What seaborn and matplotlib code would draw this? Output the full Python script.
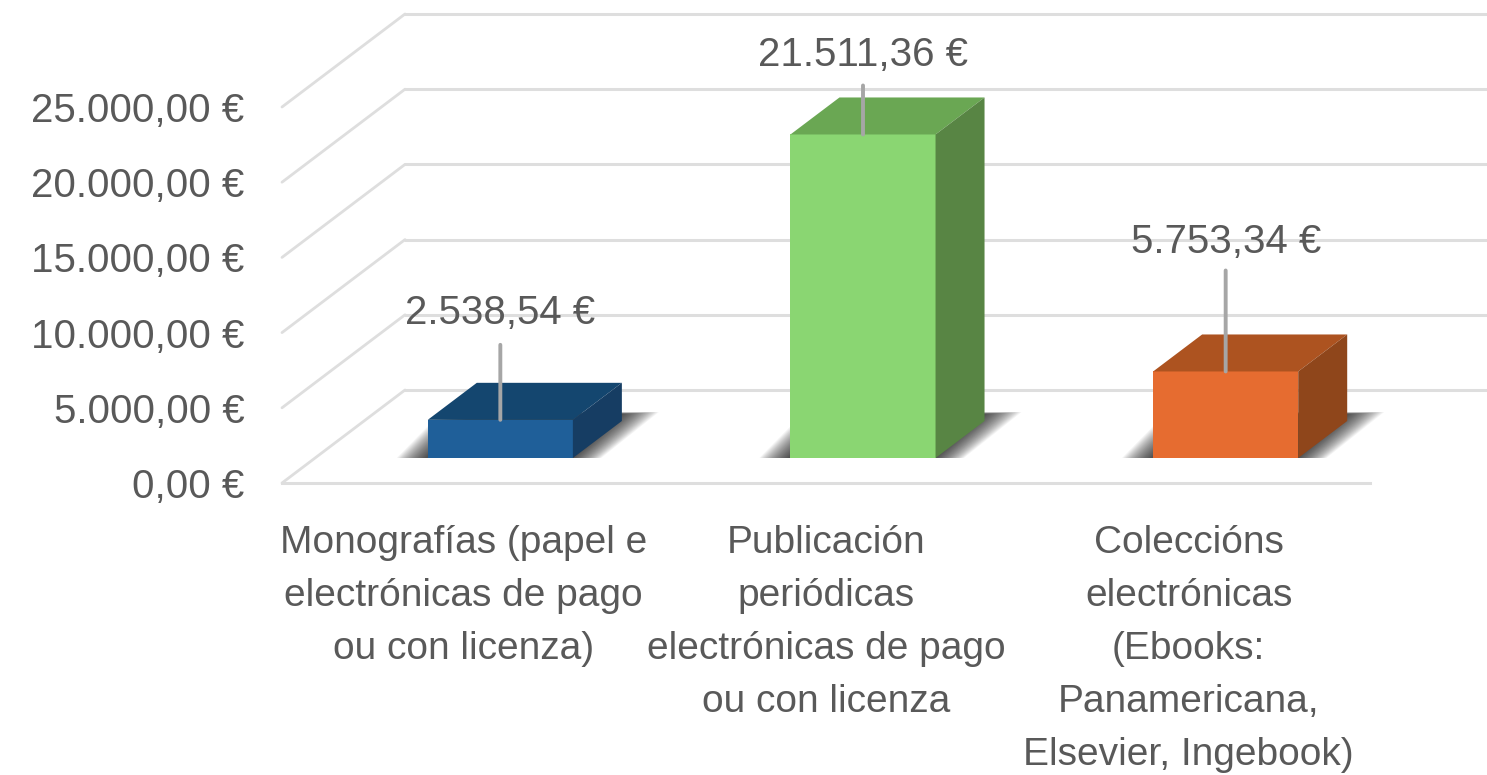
import numpy as np
import pandas as pd
import seaborn as sns
import matplotlib.pyplot as plt
from matplotlib.patches import Polygon
from matplotlib.transforms import IdentityTransform

categories = ["Monografías (papel e\nelectrónicas de pago\nou con licenza)",
              "Publicación\nperiódicas\nelectrónicas de pago\nou con licenza",
              "Coleccións\nelectrónicas\n(Ebooks:\nPanamericana,\nElsevier, Ingebook)"]
values = [2538.54, 21511.36, 5753.34]
value_labels = ["2.538,54 €", "21.511,36 €", "5.753,34 €"]
y_ticks = [0, 5000, 10000, 15000, 20000, 25000]
y_tick_labels = ["0,00 €", "5.000,00 €", "10.000,00 €", "15.000,00 €", "20.000,00 €", "25.000,00 €"]

front_colors = ["#1F5F99", "#8AD672", "#E66C30"]
top_colors = ["#14466F", "#6AA753", "#AD5320"]
side_colors = ["#163D63", "#588544", "#8F461B"]
grid_color = "#DEDEDE"
text_color = "#595959"

W, H = 1487, 775
LEFT, RIGHT, ZERO, TOP = 282, 1370, 483, 107
leader_tops = [75, 49, 101]
label_gaps = [107, 79, 129]

sns.set_theme(style="white")
plt.rcParams["font.family"] = ["Liberation Sans", "DejaVu Sans"]


def plane(fig, dx, dy, width=RIGHT - LEFT):
    # axes for one depth plane, offset in pixels from the front plane
    return fig.add_axes([(LEFT + dx) / W, (H - ZERO + dy) / H, width / W, (ZERO - TOP) / H])


fig = plt.figure(figsize=(W / 100, H / 100), dpi=100)

# back wall
ax_back = plane(fig, 123, 93, width=W - LEFT - 123)
ax_back.set_ylim(0, 25000)
ax_back.set_yticks(y_ticks)
ax_back.set_yticklabels([])
ax_back.set_xticks([])
ax_back.grid(axis="y", color=grid_color, lw=2.2)
ax_back.patch.set_alpha(0)
sns.despine(ax=ax_back, left=True, bottom=True)
for g in ax_back.get_ygridlines():
    g.set_clip_on(False)

# front plane: tick labels and floor line
ax_front = plane(fig, 0, 0)
ax_front.patch.set_alpha(0)
ax_front.set_xlim(-0.5, 2.5)
ax_front.set_ylim(0, 25000)
ax_front.set_yticks(y_ticks)
ax_front.set_yticklabels(y_tick_labels, fontsize=29, color=text_color)
ax_front.set_xticks(range(3))
ax_front.set_xticklabels(categories, fontsize=28, color=text_color, linespacing=1.61)
ax_front.tick_params(axis="y", length=0, pad=27)
ax_front.tick_params(axis="x", length=0, pad=30)
sns.despine(ax=ax_front, left=True)
ax_front.spines["bottom"].set_color(grid_color)
ax_front.spines["bottom"].set_linewidth(2.2)

# side wall diagonals
for t in y_ticks:
    px, py = ax_front.transData.transform((-0.5, t))
    fig.add_artist(plt.Line2D([px, px + 123], [py, py + 93], color=grid_color, lw=2,
                              transform=IdentityTransform()))

# bars sit on a plane 37,25 px behind the front
ax = plane(fig, 37, 25)
ax.patch.set_alpha(0)
df = pd.DataFrame({"cat": categories, "val": values})
sns.barplot(data=df, x="cat", y="val", hue="cat", palette=front_colors, width=0.4,
            legend=False, saturation=1, linewidth=0, ax=ax)
ax.set_xlim(-0.5, 2.5)
ax.set_ylim(0, 25000)
ax.set_xlabel("")
ax.set_ylabel("")
ax.set_xticks([])
ax.set_yticks([])
sns.despine(ax=ax, left=True, bottom=True)

identity = IdentityTransform()
for i, bar in enumerate(ax.patches):
    x0, y0 = ax.transData.transform((bar.get_x(), 0))
    x1, y1 = ax.transData.transform((bar.get_x() + bar.get_width(), bar.get_height()))
    dx, dy = 49, 37

    # floor shadow, layered to fake the blur
    for k in np.linspace(0, 1, 24):
        pts = [(x0 - 36 + 34 * k, y0 - 5 + 5 * k), (x1 + 22 - 22 * k, y0 - 5 + 5 * k),
               (x1 + 86 - 36 * k, y0 + 46 - 2 * k), (x0 + 14 + 30 * k, y0 + 46 - 2 * k)]
        ax.add_patch(Polygon(pts, closed=True, fc="black", ec="none", alpha=0.045,
                             transform=identity, zorder=0.5))

    ax.add_patch(Polygon([(x0, y1), (x1, y1), (x1 + dx, y1 + dy), (x0 + dx, y1 + dy)],
                         closed=True, fc=top_colors[i], ec="none", transform=identity, zorder=1.5))
    ax.add_patch(Polygon([(x1, y0), (x1 + dx, y0 + dy), (x1 + dx, y1 + dy), (x1, y1)],
                         closed=True, fc=side_colors[i], ec="none", transform=identity, zorder=1.5))

    xc = bar.get_x() + bar.get_width() / 2
    ax.annotate("", xy=(xc, values[i]), xycoords="data",
                xytext=(0, leader_tops[i] * 0.72), textcoords="offset points",
                arrowprops=dict(arrowstyle="-", color="#A6A6A6", lw=2.8, shrinkA=0, shrinkB=0),
                zorder=3)
    ax.annotate(value_labels[i], xy=(xc, values[i]), xytext=(0, label_gaps[i] * 0.72),
                textcoords="offset points", ha="center", va="center",
                fontsize=29, color=text_color, zorder=4, annotation_clip=False)

fig.savefig("out.png", dpi=100)
